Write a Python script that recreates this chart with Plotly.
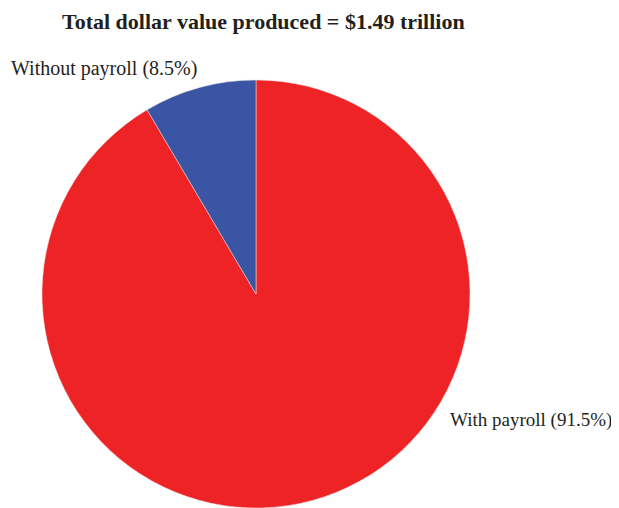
import plotly.graph_objects as go

labels = ["With payroll", "Without payroll"]
values = [91.5, 8.5]
label_texts = ["Without payroll (8.5%)", "With payroll (91.5%)"]
colors = ["#EE2325", "#3A55A3"]
title_text = "Total dollar value produced = $1.49 trillion"

OFF = 8  # page body margin offset
W, H = 619 - OFF, 508 - OFF

cx, cy, r = 256 - OFF, 294 - OFF, 214  # in plot pixel coords (y from top)

fig = go.Figure(go.Pie(
    labels=labels,
    values=values,
    sort=False,
    direction="clockwise",
    rotation=0,
    textinfo="none",
    hoverinfo="label+percent",
    marker=dict(colors=colors, line=dict(color="#f0e0e0", width=0.5)),
    domain=dict(x=[(cx - r) / W, (cx + r) / W],
                y=[max(0, (H - cy - r) / H), (H - cy + r) / H]),
    showlegend=False,
))

font_family = "Liberation Serif, Times New Roman, serif"
fig.update_layout(
    width=W, height=H,
    margin=dict(l=0, r=0, t=0, b=0),
    paper_bgcolor="white",
    plot_bgcolor="white",
    annotations=[
        dict(text="<b>" + title_text + "</b>", x=(263 - OFF) / W, y=1 - (21 - OFF) / H,
             xref="paper", yref="paper", xanchor="center", yanchor="middle",
             showarrow=False, font=dict(family=font_family, size=22, color="#231f20")),
        dict(text=label_texts[0], x=(9 - OFF) / W, y=1 - (68 - OFF) / H,
             xref="paper", yref="paper", xanchor="left", yanchor="middle",
             showarrow=False, font=dict(family=font_family, size=20, color="#231f20")),
        dict(text=label_texts[1], x=(448 - OFF) / W, y=1 - (420 - OFF) / H,
             xref="paper", yref="paper", xanchor="left", yanchor="middle",
             showarrow=False, font=dict(family=font_family, size=19, color="#231f20")),
    ],
)

fig.write_html("out.html")
